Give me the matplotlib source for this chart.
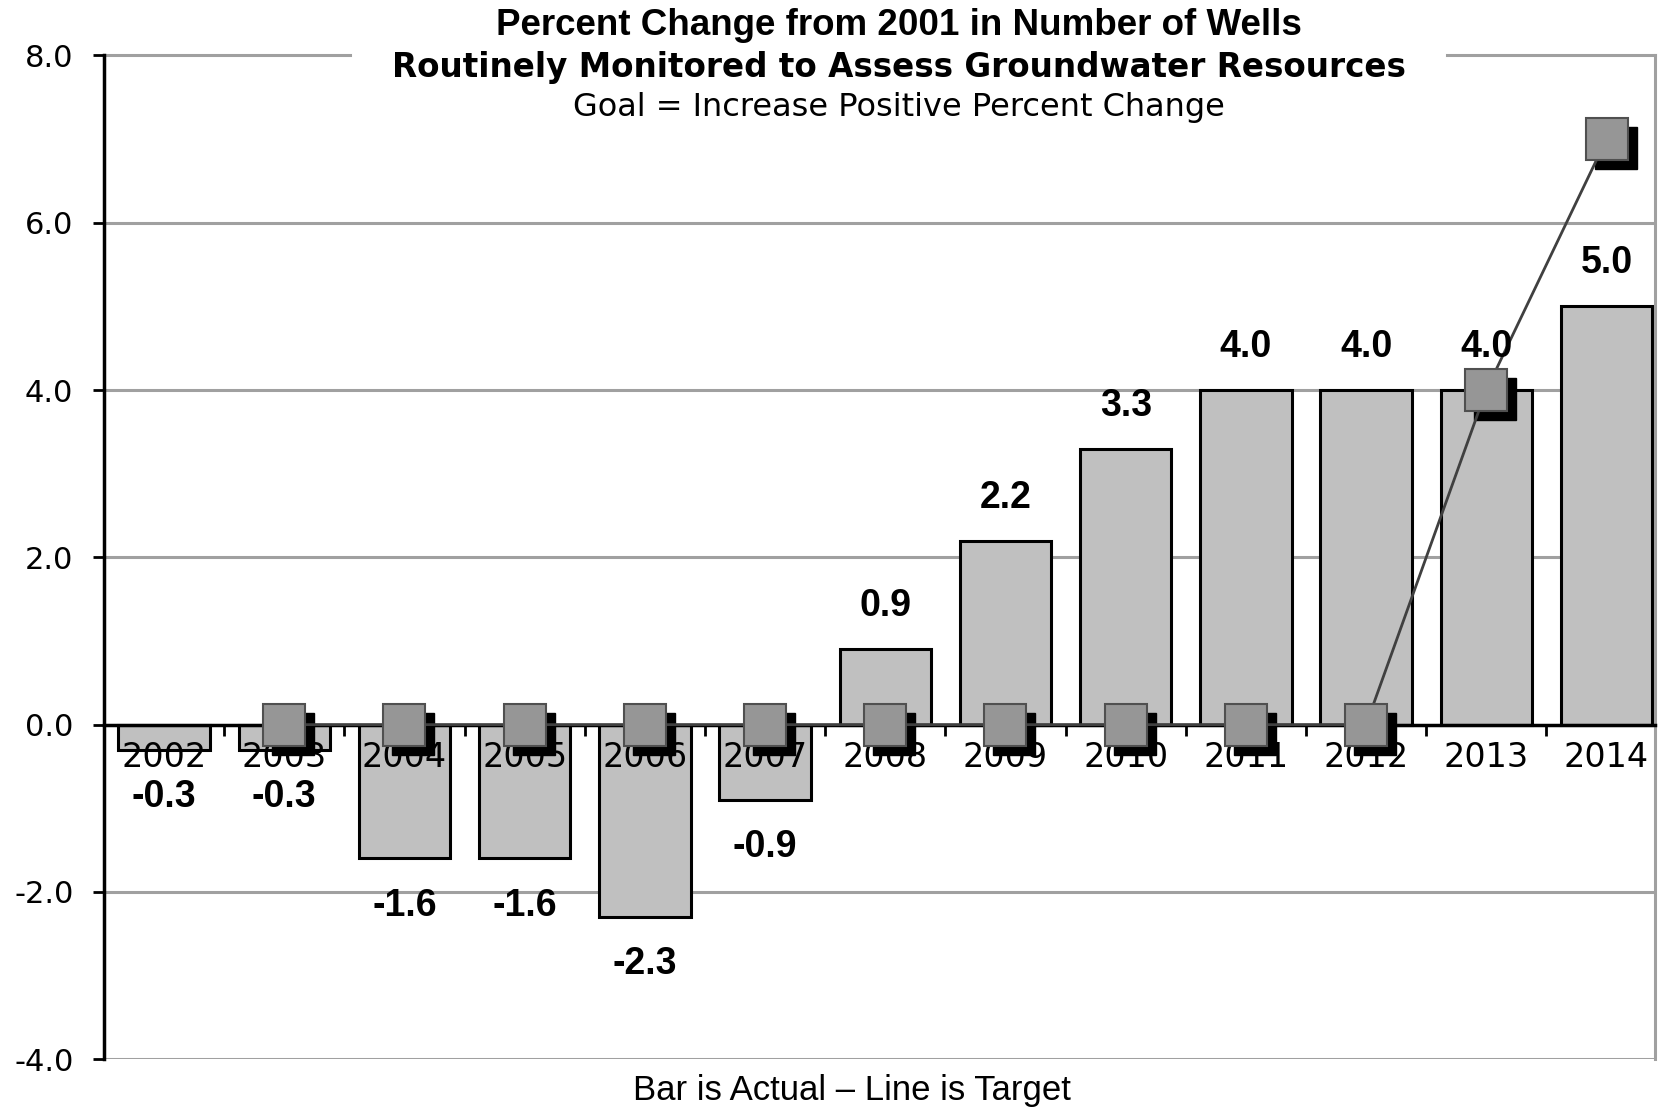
import numpy as np
import matplotlib.pyplot as plt
from matplotlib import transforms

years = ['2002', '2003', '2004', '2005', '2006', '2007', '2008',
         '2009', '2010', '2011', '2012', '2013', '2014']
actual = [-0.3, -0.3, -1.6, -1.6, -2.3, -0.9, 0.9, 2.2, 3.3, 4.0, 4.0, 4.0, 5.0]
# target line starts in 2003
target_years = years[1:]
target = [0, 0, 0, 0, 0, 0, 0, 0, 0, 0, 4.0, 7.0]

arial = ['Liberation Sans', 'DejaVu Sans']
plt.rcParams['font.family'] = ['DejaVu Sans']

fig = plt.figure(figsize=(16.71, 11.08), dpi=100)
ax = fig.add_axes([0.0622, 0.044, 0.928, 0.906])
ax.set_axisbelow(False)

x = np.arange(len(years))
xt = np.arange(1, len(years))

# grid lines
for yv in [-4, -2, 2, 4, 6]:
    ax.axhline(yv, color='#a0a0a0', lw=2.2, zorder=0)

ax.bar(x, actual, width=0.76, color='#c0c0c0', edgecolor='black', lw=2.2, zorder=2)

# target line with shadowed square markers
shadow = transforms.offset_copy(ax.transData, fig=fig, x=9, y=-9, units='dots')
ax.plot(xt, target, ls='none', marker='s', ms=30, color='black', zorder=3,
        transform=shadow)
ax.plot(xt, target, color='#404040', lw=2, marker='s', ms=30,
        markerfacecolor='#969696', markeredgecolor='#505050', markeredgewidth=1.5,
        zorder=4)

for i, v in enumerate(actual):
    off = 31 if v > 0 else -34
    ax.annotate(f'{v:.1f}', (i, v), xytext=(0, off), textcoords='offset points',
                ha='center', va='center', fontsize=27, fontweight='bold',
                family=arial, zorder=5)

ax.set_xlim(-0.5, len(years) - 0.6)
ax.set_ylim(-4, 8)
ax.set_yticks([-4, -2, 0, 2, 4, 6, 8])
ax.set_yticklabels([f'{v:.1f}' for v in [-4, -2, 0, 2, 4, 6, 8]], fontsize=22)
ax.tick_params(axis='y', length=8, width=2, pad=14)

# category axis sits at zero
ax.spines['bottom'].set_position(('data', 0))
ax.spines['bottom'].set_linewidth(2.5)
ax.spines['left'].set_linewidth(2.5)
ax.spines['right'].set_color('#a0a0a0')
ax.spines['right'].set_linewidth(2.2)
ax.spines['top'].set_visible(False)
ax.set_xticks(x[:-1] + 0.5, minor=False)
ax.set_xticklabels([])
ax.tick_params(axis='x', which='major', length=8, width=2, direction='out')
ax.set_xticks(x, minor=True)
ax.set_xticklabels(years, minor=True, fontsize=24)
ax.tick_params(axis='x', which='minor', length=0, pad=12)

# top border broken by the title
ax.plot([0, 0.159], [1, 1], color='#a0a0a0', lw=2.2, transform=ax.transAxes, clip_on=False)
ax.plot([0.866, 1], [1, 1], color='#a0a0a0', lw=2.2, transform=ax.transAxes, clip_on=False)

fig.text(0.538, 0.977, 'Percent Change from 2001 in Number of Wells',
         ha='center', va='center', fontsize=26.5, fontweight='bold', family=arial)
fig.text(0.538, 0.939, 'Routinely Monitored to Assess Groundwater Resources',
         ha='center', va='center', fontsize=23.5, fontweight='bold')
fig.text(0.538, 0.903, 'Goal = Increase Positive Percent Change',
         ha='center', va='center', fontsize=23)
fig.text(0.51, 0.016, 'Bar is Actual \u2013 Line is Target',
         ha='center', va='center', fontsize=25, family=arial)

fig.savefig('out.png', dpi=100)
